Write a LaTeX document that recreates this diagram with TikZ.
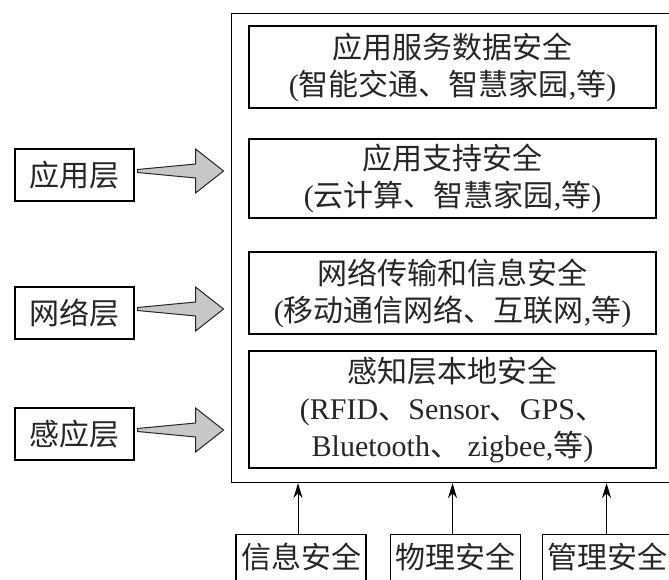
\documentclass[tikz,border=0pt]{standalone}
\usepackage{fontspec}
\setmainfont{Liberation Serif}
\newfontfamily\zhfont{Noto Sans CJK SC}
\newcommand\zh[1]{{\zhfont #1}}
\usetikzlibrary{calc,arrows.meta}
\begin{document}
\begin{tikzpicture}[x=1pt,y=-1pt,
  line width=1.1pt,
  txt/.style={font=\fontsize{30}{37}\selectfont, text=black!85},
  ibox/.style={draw, txt, minimum width=407, inner sep=0pt, align=center},
  lbox/.style={draw, txt, minimum width=119, minimum height=52, inner sep=0pt},
  bbox/.style={draw, txt, anchor=north, minimum width=130, inner xsep=0pt, inner ysep=0pt,
               text height=34pt, text depth=40pt},
  fat/.style={draw=black!85, fill=black!22, line width=1pt, line join=miter},
  up/.style={-{Stealth[length=15pt,width=9pt]}, line width=1pt}]
\useasboundingbox (0,0) rectangle (669,580);
\clip (0,0) rectangle (669,580);

% frame holding the four security layers
\node[draw, anchor=north west, minimum width=450, minimum height=469, inner sep=0pt] (outer) at (231,13) {};

\node[ibox, minimum height=82] (b1) at (452.5,67)
  {\zh{应用服务数据安全}\\(\zh{智能交通、智慧家园},\zh{等})};
\node[ibox, minimum height=79] (b2) at (452.5,178.5)
  {\zh{应用支持安全}\\(\zh{云计算、智慧家园},\zh{等})};
\node[ibox, minimum height=82] (b3) at (452.5,293)
  {\zh{网络传输和信息安全}\\(\zh{移动通信网络、互联网},\zh{等})};
\node[ibox, minimum height=117] (b4) at (452.5,409.5)
  {\zh{感知层本地安全}\\(RFID\zh{、}Sensor\zh{、}GPS\zh{、}\\Bluetooth\zh{、} zigbee,\zh{等})};

% layer labels on the left
\node[lbox] (app) at (74.5,175) {\zh{应用层}};
\node[lbox] (net) at (74.5,313) {\zh{网络层}};
\node[lbox] (sen) at (74.5,434) {\zh{感应层}};

% tapered block arrows pointing at the frame
\foreach \n in {app,net,sen}{
  \path (\n.east) ++(3,-4) coordinate (\n t);
  \path[fat] ($(\n t)+(0,-1.5)$) -- ($(\n t)+(58,-7)$) -- ($(\n t)+(58,-22)$)
    -- ($(\n t)+(86,0)$) -- ($(\n t)+(58,22)$) -- ($(\n t)+(58,7)$)
    -- ($(\n t)+(0,1.5)$) -- cycle;
}

% supporting security aspects below
\node[bbox] (info) at (301,534) {\zh{信息安全}};
\node[bbox] (phys) at (455.5,534) {\zh{物理安全}};
\node[bbox, anchor=north west, minimum width=0pt, text width=140pt, align=left, inner xsep=5pt]
  (mgmt) at (542,534) {\zh{管理安全}};

\draw[up] ([xshift=-3pt]info.north) -- ([xshift=-3pt]info.north |- outer.south);
\draw[up] ([xshift=-3pt]phys.north) -- ([xshift=-3pt]phys.north |- outer.south);
\draw[up] ([xshift=-11pt]mgmt.north) -- ([xshift=-11pt]mgmt.north |- outer.south);
\end{tikzpicture}
\end{document}
